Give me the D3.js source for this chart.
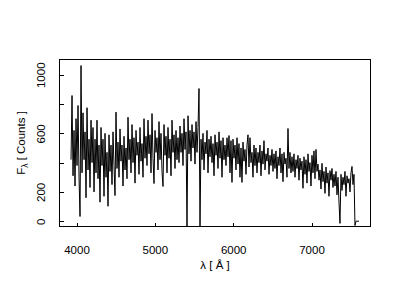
<!DOCTYPE html>
<html>
<head>
<meta charset="utf-8">
<title>Spektrum</title>
<script src="https://d3js.org/d3.v7.min.js"></script>
<style>
  body { margin: 0; background: #fff; }
  text { font-family: "Liberation Sans", Arial, sans-serif; font-size: 11.5px; fill: #000; }
  .axis path { display: none; }
  .axis line { stroke: #000; shape-rendering: crispEdges; }
</style>
</head>
<body>
<div id="chart"></div>
<script>

// spectrum: flux per wavelength bin
var lambdaStart = 3930,
    lambdaStep = 12.764;
var flux = [
  420, 858, 310, 620, 240, 700, 380, 790, 300, 32,
  1063, 330, 740, 420, 610, 160, 775, 350, 560, 230, 690, 400, 640,
  200, 560, 330, 690, 290, 520, 130, 640, 380, 560, 170, 600, 300, 470, 102, 590,
  340, 520, 250, 610, 380, 175, 745, 360, 540, 300, 630, 410, 520, 240, 580, 350, 500,
  290, 710, 420, 560, 330, 660, 400, 570, 260, 620, 450, 540, 320, 640, 410, 530, 300, 700, 430, 580,
  380, 690, 460, 590, 330, 735, 430, 257, 620, 470, 570, 350, 680,
  420, 600, 340, 237, 660, 450, 580, 330, 640, 430, 560, 310, 690, 470, 590, 360, 620, 420, 570,
  400, 650, 470, 600, 380, 700, 490, 610, -40, 720, 460, 620, 410, 660, 500, 610, 390, 680, 470, 640,
  906, -40, 560, 420, 600, 350, 540, 460, 620, 330, 560, 440, 580, 400, 530, 310, 590, 450, 540, 360, 610, 430, 550, 300, 570, 420, 520,
  380, 570, 440, 585, 330, 550, 265, 560, 430, 520, 350, 570,
  390, 530, 300, 500, 265, 540, 410, 490, 320, 520, 590, 370, 570, 400, 470, 300, 520,
  380, 500, 330, 470, 400, 520, 310, 480, 390, 550, 350, 460, 410, 500, 320, 450, 380, 490, 340, 460,
  360, 480, 290, 440, 380, 500, 330, 460, 270, 470, 390, 430, 300, 633, 360, 470, 330,
  440, 340, 460, 300, 420, 360, 450, 280, 430, 350, 410, 225, 440,
  320, 420, 260, 460, 340, 400, 240, 450, 330, 480, 290, 490, 340,
  390, 280, 350, 220, 395, 270, 340, 190, 370, 260, 330, 170, 345, 280, 360, 230,
  320, 240, 340, 180, 300, 130, -15, 320, 210, 300, 250, 340, 170, 310, 260, 290, 200, 330, 374, 250, 320, -30, 0, 0, 0, 0
];

var xTicks = [4000, 5000, 6000, 7000];
var yTicks = [0, 200, 400, 600, 800, 1000];
var yTickLabels = ["0", "200", "", "600", "", "1000"];

// axis limits, widened 4% on each side like R does
var xLim = [3930, 7606],
    yLim = [6, 1062];

var margin = {top: 59.5, right: 29.5, bottom: 73.5, left: 59.5},
    width = 311,
    height = 167;

var svg = d3.select("#chart")
  .append("svg")
    .attr("width", 400)
    .attr("height", 300)
  .append("g")
    .attr("transform", "translate(" + margin.left + "," + margin.top + ")");

var xPad = 0.04 * (xLim[1] - xLim[0]),
    yPad = 0.04 * (yLim[1] - yLim[0]);

var x = d3.scaleLinear()
  .domain([xLim[0] - xPad, xLim[1] + xPad])
  .range([0, width]);

var y = d3.scaleLinear()
  .domain([yLim[0] - yPad, yLim[1] + yPad])
  .range([height, 0]);

svg.append("clipPath")
    .attr("id", "plotclip")
  .append("rect")
    .attr("width", width)
    .attr("height", height);

// the spectrum
svg.append("path")
    .datum(flux)
    .attr("clip-path", "url(#plotclip)")
    .attr("fill", "none")
    .attr("stroke", "#000")
    .attr("stroke-width", 1)
    .attr("stroke-linejoin", "round")
    .attr("d", d3.line()
      .x(function(d, i) { return x(lambdaStart + i * lambdaStep); })
      .y(function(d) { return y(d); })
    );

// x axis, ticks pointing inwards
svg.append("g")
    .attr("class", "axis")
    .attr("transform", "translate(0," + height + ")")
    .call(d3.axisBottom(x)
      .tickValues(xTicks)
      .tickFormat(d3.format("d"))
      .tickSizeInner(-4)
      .tickSizeOuter(0)
      .tickPadding(19));

// y axis, labels turned like R does
var yAxis = svg.append("g")
    .attr("class", "axis")
    .call(d3.axisLeft(y)
      .tickValues(yTicks)
      .tickFormat(function(d, i) { return yTickLabels[i]; })
      .tickSizeInner(-4)
      .tickSizeOuter(0));

yAxis.selectAll("text")
    .attr("transform", "rotate(-90)")
    .attr("x", 0)
    .attr("y", -15)
    .attr("dy", 0)
    .style("text-anchor", "middle");

svg.selectAll(".axis text")
    .attr("fill", "#000")
    .style("font-size", "11.5px")
    .style("font-family", "\"Liberation Sans\", Arial, sans-serif");

// box around the plot
svg.append("rect")
    .attr("width", width)
    .attr("height", height)
    .attr("fill", "none")
    .attr("stroke", "#000")
    .attr("stroke-width", 1)
    .style("shape-rendering", "crispEdges");

// titles
svg.append("text")
    .attr("x", width / 2)
    .attr("y", height + 42.5)
    .style("text-anchor", "middle")
    .text("λ [ Å ]");

var ylab = svg.append("text")
    .attr("transform", "translate(-35," + (height / 2) + ") rotate(-90)")
    .style("text-anchor", "middle");
ylab.append("tspan").text("F");
ylab.append("tspan").attr("dy", 3).style("font-size", "8.5px").text("λ");
ylab.append("tspan").attr("dy", -3).text(" [ Counts ]");

</script>
</body>
</html>
